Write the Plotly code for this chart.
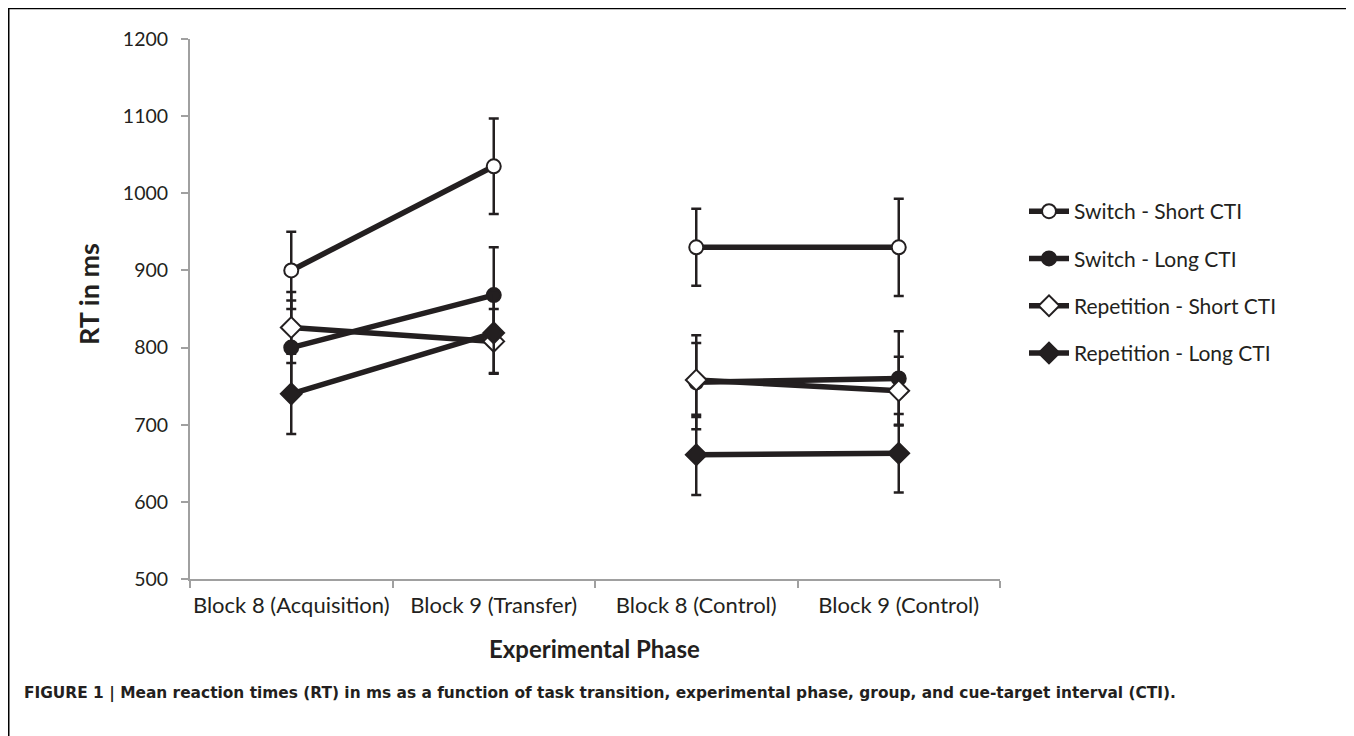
import plotly.graph_objects as go

categories = ["Block 8 (Acquisition)", "Block 9 (Transfer)", "Block 8 (Control)", "Block 9 (Control)"]
series_names = ["Switch - Short CTI", "Switch - Long CTI", "Repetition - Short CTI", "Repetition - Long CTI"]
switch_short = [900, 1035, 930, 930]
switch_short_err = [50, 62, 50, 63]
switch_long = [800, 868, 755, 760]
switch_long_err = [61, 62, 61, 61]
rep_short = [826, 808, 758, 744]
rep_short_err = [46, 42, 48, 44]
rep_long = [740, 819, 661, 663]
rep_long_err = [52, 52, 52, 51]
y_ticks = [500, 600, 700, 800, 900, 1000, 1100, 1200]

DARK = "#231f20"
GRAY = "#a0a0a0"
FONT = "Lato"

series = [
    (series_names[0], switch_short, switch_short_err, "circle", "white", 14),
    (series_names[1], switch_long, switch_long_err, "circle", DARK, 14),
    (series_names[2], rep_short, rep_short_err, "diamond", "white", 16),
    (series_names[3], rep_long, rep_long_err, "diamond", DARK, 16),
]

fig = go.Figure()
for gi, (name, vals, errs, sym, fill, msize) in enumerate(series):
    for si, idx in enumerate([(0, 1), (2, 3)]):
        fig.add_trace(go.Scatter(
            x=[categories[i] for i in idx],
            y=[vals[i] for i in idx],
            error_y=dict(type="data", array=[errs[i] for i in idx], color=DARK, thickness=2.5, width=5),
            mode="lines+markers",
            name=name,
            legendgroup=name,
            showlegend=(si == 0),
            line=dict(color=DARK, width=5.5),
            marker=dict(symbol=sym, size=msize, color=fill, line=dict(color=DARK, width=2)),
        ))

# page offset (browser body margin)
OFF = 8
W, H = 1346, 728
L, R, T, B = 182, 354, 31, 157
pw, ph = W - L - R, H - T - B

def px(x):
    return (x - OFF - L) / pw

def py(y):
    return (H - B - (y - OFF)) / ph

fig.update_layout(
    width=W, height=H,
    margin=dict(l=L, r=R, t=T, b=B),
    paper_bgcolor="white", plot_bgcolor="white",
    font=dict(family=FONT, size=19, color=DARK),
    showlegend=True,
    legend=dict(
        x=px(1024), y=py(191), xanchor="left", yanchor="top",
        traceorder="grouped", tracegroupgap=17,
        font=dict(family=FONT, size=21, color=DARK),
        itemwidth=40, bgcolor="rgba(0,0,0,0)",
    ),
    xaxis=dict(
        type="category", categoryorder="array", categoryarray=categories,
        range=[-0.5, 3.5], tickson="boundaries", tickangle=0,
        showline=True, linecolor=GRAY, linewidth=2,
        ticks="outside", ticklen=7, tickcolor=GRAY, tickwidth=2,
        ticklabelstandoff=6,
        showgrid=False, zeroline=False,
        tickfont=dict(family=FONT, size=22, color=DARK),
    ),
    yaxis=dict(
        range=[500, 1200], tickvals=y_ticks,
        showline=True, linecolor=GRAY, linewidth=2,
        ticks="outside", ticklen=7, tickcolor=GRAY, tickwidth=2,
        ticklabelstandoff=9,
        showgrid=False, zeroline=False,
        tickfont=dict(family=FONT, size=19.5, color=DARK),
    ),
    annotations=[
        dict(text="<b>RT in ms</b>", x=px(88), y=py(294), xref="paper", yref="paper",
             textangle=-90, showarrow=False, font=dict(family=FONT, size=27, color=DARK),
             xanchor="center", yanchor="middle"),
        dict(text="<b>Experimental Phase</b>", x=px(594), y=py(648), xref="paper", yref="paper",
             showarrow=False, font=dict(family=FONT, size=24, color=DARK),
             xanchor="center", yanchor="middle"),
        dict(text="<b>FIGURE 1 | Mean reaction times (RT) in ms as a function of task transition, experimental phase, group, and cue-target interval (CTI).</b>",
             x=px(22), y=py(693), xref="paper", yref="paper",
             showarrow=False, font=dict(family="DejaVu Sans", size=15.4, color=DARK),
             xanchor="left", yanchor="middle"),
    ],
    shapes=[
        dict(type="rect", xref="paper", yref="paper",
             x0=px(8.75), x1=px(1352.5), y0=py(780), y1=py(8.5),
             line=dict(color="black", width=1.5), fillcolor="rgba(0,0,0,0)", layer="below"),
    ],
)

fig.write_html("out.html")
